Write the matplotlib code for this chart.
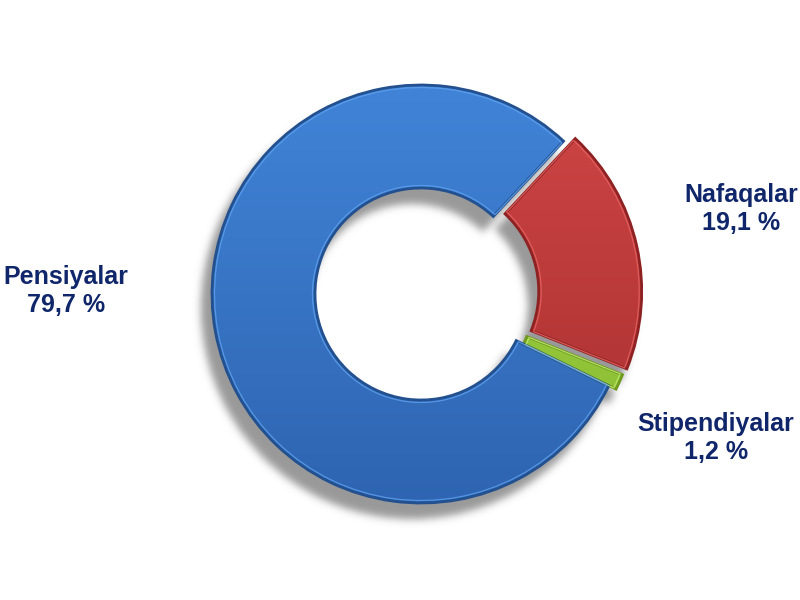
import matplotlib
matplotlib.use('Agg')
import matplotlib.pyplot as plt
import numpy as np
from matplotlib.colors import LinearSegmentedColormap

# ---- data ----
categories = ['Nafaqalar', 'Stipendiyalar', 'Pensiyalar']
values = [19.1, 1.2, 79.7]
pct_labels = ['19,1 %', '1,2 %', '79,7 %']

# ---- style / layout ----
top_colors = ['#D24848', '#A6D84A', '#4286DA']
bot_colors = ['#A42C2C', '#86B82E', '#2D62AE']
edge_colors = ['#8E2222', '#6E9A20', '#23508F']
rim_colors = ['#E86464', '#C4EC70', '#5EA2F0']
explode = [12, 8, 0]          # in pixel/data units
label_pos = [(741, 391), (716, 162), (66, 309)]
text_color = '#10266A'

W, H = 800, 600
cx, cy, R = 421, 306, 209
ring_w = 103
startangle = 47

fig = plt.figure(figsize=(8, 6), dpi=100)
ax = fig.add_axes([0, 0, 1, 1])

# ---- shadow (blurred copy of the wedges, shifted down-left) ----
sh_wedges, _ = ax.pie(values, center=(cx - 9, cy - 14), radius=R + 2,
                      startangle=startangle, counterclock=False, explode=explode,
                      wedgeprops=dict(width=ring_w + 4, facecolor='none', edgecolor='none'))
xs = np.arange(W) + 0.5
ys = np.arange(H) + 0.5
XX, YY = np.meshgrid(xs, ys)
pts = np.column_stack([XX.ravel(), YY.ravel()])
mask = np.zeros(W * H)
for w in sh_wedges:
    mask = np.maximum(mask, w.get_path().contains_points(pts).astype(float))
    w.remove()
mask = mask.reshape(H, W)

def blur(a, sigma):
    r = int(3 * sigma)
    k = np.exp(-0.5 * (np.arange(-r, r + 1) / sigma) ** 2)
    k /= k.sum()
    a = np.apply_along_axis(lambda m: np.convolve(m, k, mode='same'), 1, a)
    a = np.apply_along_axis(lambda m: np.convolve(m, k, mode='same'), 0, a)
    return a

mask = blur(mask, 4.0)
rgba = np.zeros((H, W, 4))
rgba[..., :3] = 0.6
rgba[..., 3] = np.clip(mask * 1.0, 0, 1)
ax.imshow(rgba, extent=[0, W, 0, H], origin='lower', zorder=1, interpolation='bilinear')

# ---- wedges ----
wedges, _ = ax.pie(values, center=(cx, cy), radius=R,
                   startangle=startangle, counterclock=False, explode=explode,
                   wedgeprops=dict(width=ring_w, linewidth=2.0))
grad = np.linspace(0, 1, 256).reshape(-1, 1)
for w, tc, bc, ec in zip(wedges, top_colors, bot_colors, edge_colors):
    w.set_facecolor('none')
    w.set_edgecolor(ec)
    w.set_zorder(3)
    cmap = LinearSegmentedColormap.from_list('g', [bc, tc])
    im = ax.imshow(grad, cmap=cmap, extent=[cx - R - 30, cx + R + 30, cy - R - 30, cy + R + 30],
                   origin='lower', aspect='auto', zorder=2, interpolation='bilinear')
    im.set_clip_path(w)

# light bevel rim just inside the outline
rims, _ = ax.pie(values, center=(cx, cy), radius=R - 2.5,
                 startangle=startangle, counterclock=False, explode=explode,
                 wedgeprops=dict(width=ring_w - 5, linewidth=0.9, facecolor='none'))
for r, rc in zip(rims, rim_colors):
    r.set_edgecolor(rc)
    r.set_alpha(0.8)
    r.set_zorder(3.5)

# ---- labels ----
for cat, pct, (lx, ly) in zip(categories, pct_labels, label_pos):
    ax.text(lx, ly, f'{cat}\n{pct}', ha='center', va='center', fontsize=18,
            fontweight='bold', color=text_color, family=['Liberation Sans', 'DejaVu Sans'],
            linespacing=1.2, zorder=5)

ax.set_xlim(0, W)
ax.set_ylim(0, H)
ax.set_aspect('equal')
ax.axis('off')
fig.savefig('out.png', dpi=100, facecolor='white')
